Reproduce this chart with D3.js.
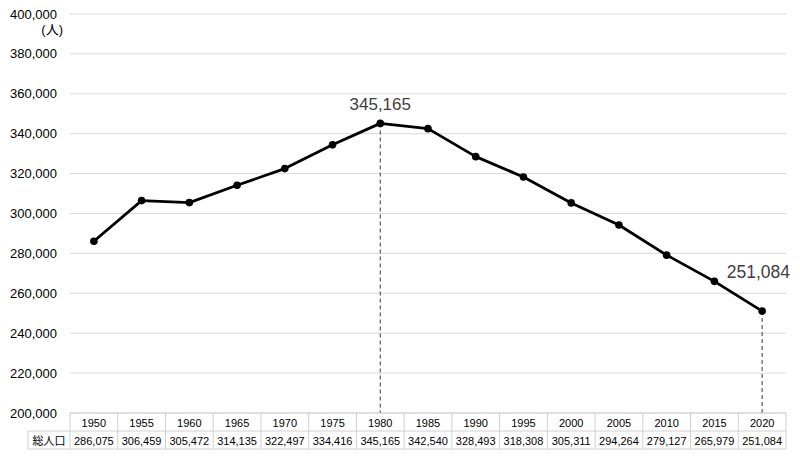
<!DOCTYPE html>
<html><head><meta charset="utf-8">
<script src="https://cdn.jsdelivr.net/npm/d3@7"></script>
<style>body{margin:0;background:#fff}svg{display:block}</style>
</head><body>
<svg id="c" width="800" height="456"></svg>
<script>
const years = [1950,1955,1960,1965,1970,1975,1980,1985,1990,1995,2000,2005,2010,2015,2020];
const population = [286075,306459,305472,314135,322497,334416,345165,342540,328493,318308,305311,294264,279127,265979,251084];
const yTicks = [200000,220000,240000,260000,280000,300000,320000,340000,360000,380000,400000];
const rowLabel = "総人口";
const unitLabel = "(人)";
const highlightYears = [1980, 2020];

(function(){
const svg = d3.select("#c");
const font = "Arial, 'Liberation Sans', 'Noto Sans CJK JP', sans-serif";
const pL = 70, pR = 786, pT = 14, pB = 413;
const x = d3.scaleBand().domain(years).range([pL, pR]);
const y = d3.scaleLinear().domain([200000, 400000]).range([pB, pT]);
const fmt = d3.format(",");

svg.append("g").selectAll("line").data(yTicks).join("line")
  .attr("x1", pL).attr("x2", pR)
  .attr("y1", d => y(d)).attr("y2", d => y(d))
  .attr("stroke", "#d9d9d9").attr("stroke-width", 1);

svg.append("g").selectAll("text").data(yTicks).join("text")
  .attr("x", 57).attr("y", d => y(d) + 4.5)
  .attr("text-anchor", "end").attr("font-family", font).attr("font-size", 13)
  .attr("fill", "#000").text(d => fmt(d));
svg.append("text").attr("x", 63).attr("y", 34).attr("text-anchor", "end")
  .attr("font-family", font).attr("font-size", 13).text(unitLabel);

const cx = d => x(d) + x.bandwidth() / 2;

svg.append("g").selectAll("line").data(highlightYears).join("line")
  .attr("x1", d => cx(d)).attr("x2", d => cx(d))
  .attr("y1", d => y(population[years.indexOf(d)])).attr("y2", pB)
  .attr("stroke", "#595959").attr("stroke-width", 1.2).attr("stroke-dasharray", "4,3");

const line = d3.line().x((d, i) => cx(years[i])).y(d => y(d));
svg.append("path").datum(population).attr("d", line)
  .attr("fill", "none").attr("stroke", "#000").attr("stroke-width", 2.8)
  .attr("stroke-linejoin", "round");
svg.append("g").selectAll("circle").data(population).join("circle")
  .attr("cx", (d, i) => cx(years[i])).attr("cy", d => y(d)).attr("r", 3.8).attr("fill", "#000");

const i1980 = years.indexOf(1980), i2020 = years.indexOf(2020);
svg.append("text").attr("x", cx(1980)).attr("y", y(population[i1980]) - 13)
  .attr("text-anchor", "middle").attr("font-family", font).attr("font-size", 17)
  .attr("fill", "#404040").text(fmt(population[i1980]));
svg.append("text").attr("x", 790).attr("y", y(population[i2020]) - 33)
  .attr("text-anchor", "end").attr("font-family", font).attr("font-size", 17.5)
  .attr("fill", "#404040").text(fmt(population[i2020]));

const r1 = 413, r2 = 431, r3 = 449, labelLeft = 28;
const tg = svg.append("g");
const bc = "#d0d0d0";
tg.append("line").attr("x1", pL).attr("x2", pR).attr("y1", r1).attr("y2", r1).attr("stroke", bc);
tg.append("line").attr("x1", labelLeft).attr("x2", pR).attr("y1", r2).attr("y2", r2).attr("stroke", bc);
tg.append("line").attr("x1", labelLeft).attr("x2", pR).attr("y1", r3).attr("y2", r3).attr("stroke", bc);
tg.append("line").attr("x1", labelLeft).attr("x2", labelLeft).attr("y1", r2).attr("y2", r3).attr("stroke", bc);
tg.selectAll("line.v").data(years).join("line").attr("class", "v")
  .attr("x1", d => x(d)).attr("x2", d => x(d)).attr("y1", r1).attr("y2", r3).attr("stroke", bc);
tg.append("line").attr("x1", pR).attr("x2", pR).attr("y1", r1).attr("y2", r3).attr("stroke", bc);
tg.selectAll("text.yr").data(years).join("text").attr("class", "yr")
  .attr("x", d => cx(d)).attr("y", r1 + 13.5).attr("text-anchor", "middle")
  .attr("font-family", font).attr("font-size", 11).text(d => d);
tg.selectAll("text.val").data(population).join("text").attr("class", "val")
  .attr("x", (d, i) => cx(years[i])).attr("y", r2 + 13.5).attr("text-anchor", "middle")
  .attr("font-family", font).attr("font-size", 11).text(d => fmt(d));
tg.append("text").attr("x", (labelLeft + pL) / 2).attr("y", r2 + 13.5).attr("text-anchor", "middle")
  .attr("font-family", font).attr("font-size", 11).text(rowLabel);
})();
</script>
</body></html>
